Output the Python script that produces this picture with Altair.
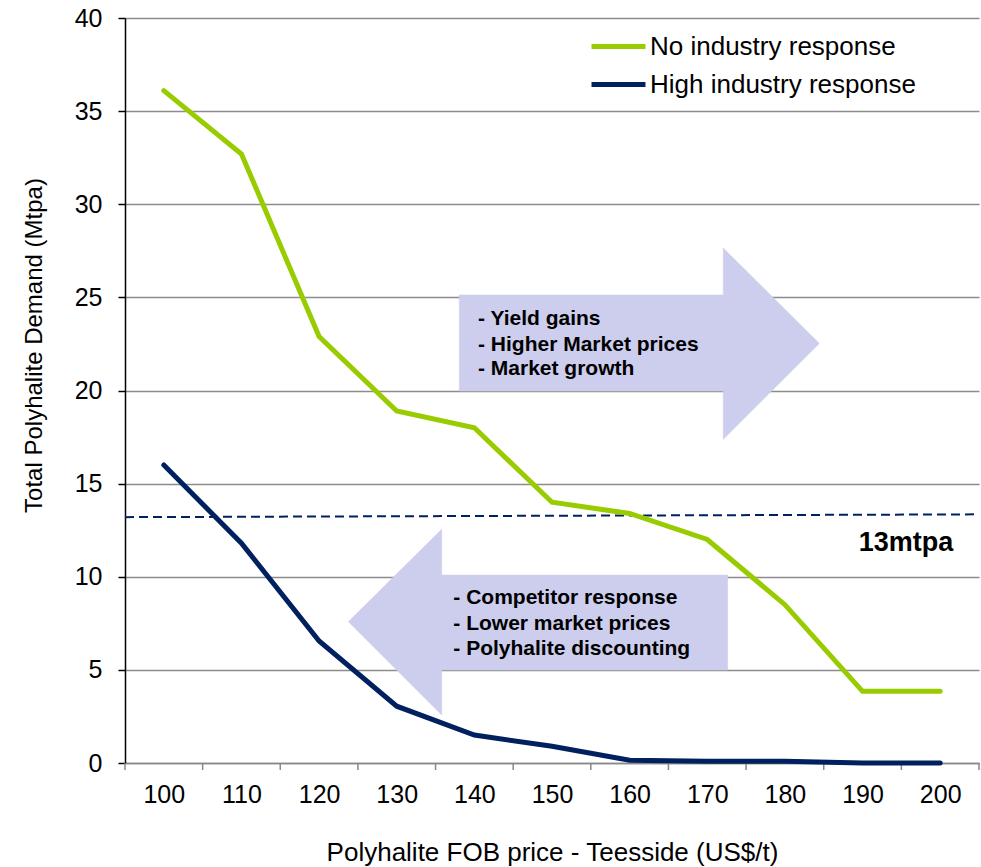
import altair as alt
import pandas as pd

# Demand curves (Mtpa) against FOB price (US$/t)
prices = [100, 110, 120, 130, 140, 150, 160, 170, 180, 190, 200]
no_response = [36.1, 32.7, 22.9, 18.9, 18.0, 14.0, 13.4, 12.0, 8.5, 3.85, 3.85]
high_response = [16.0, 11.8, 6.55, 3.05, 1.5, 0.9, 0.15, 0.1, 0.1, 0.0, 0.0]
series_names = ["No industry response", "High industry response"]
series_colors = ["#99CC00", "#002060"]

# tick marks sit on the boundaries between price categories
tick_bounds = [95, 105, 115, 125, 135, 145, 155, 165, 175, 185, 195, 205]

# 13 mtpa reference level
ref_x = [95, 205]
ref_y = [13.2, 13.35]
ref_label = "13mtpa"
ref_label_x = [195.6]
ref_label_y = [11.83]

# block arrow outlines, listed point by point around each polygon
up_x = [138.06, 172.06, 172.06, 184.43, 172.06, 172.06, 138.06]
up_y = [25.13, 25.13, 27.65, 22.53, 17.38, 19.97, 19.97]
down_x = [123.77, 135.79, 135.79, 172.62, 172.62, 135.79, 135.79]
down_y = [7.59, 12.55, 10.09, 10.09, 4.99, 4.99, 2.58]

up_text = ["- Yield gains", "- Higher Market prices", "- Market growth"]
up_text_x = [140.47, 140.47, 140.47]
up_text_y = [23.83, 22.44, 21.15]
down_text = ["- Competitor response", "- Lower market prices", "- Polyhalite discounting"]
down_text_x = [137.29, 137.29, 137.29]
down_text_y = [8.86, 7.46, 6.12]

FONT = "Liberation Sans"
x_scale = alt.Scale(domain=[95, 205], nice=False, zero=False)
y_scale = alt.Scale(domain=[0, 40], nice=False)

curves = pd.DataFrame(
    [{"series": series_names[0], "price": p, "demand": v} for p, v in zip(prices, no_response)]
    + [{"series": series_names[1], "price": p, "demand": v} for p, v in zip(prices, high_response)]
)

arrows = pd.DataFrame(
    [{"arrow": "up", "idx": i, "price": x, "demand": y} for i, (x, y) in enumerate(zip(up_x, up_y))]
    + [{"arrow": "down", "idx": i, "price": x, "demand": y} for i, (x, y) in enumerate(zip(down_x, down_y))]
)

notes = pd.DataFrame(
    [{"price": x, "demand": y, "t": t} for x, y, t in zip(up_text_x, up_text_y, up_text)]
    + [{"price": x, "demand": y, "t": t} for x, y, t in zip(down_text_x, down_text_y, down_text)]
)

x_axis = alt.Axis(
    values=prices,
    format="d",
    ticks=False,
    grid=False,
    domainColor="#888888",
    domainWidth=1.5,
    labelFontSize=25,
    labelColor="black",
    labelPadding=19,
    labelFont=FONT,
    title="Polyhalite FOB price - Teesside (US$/t)",
    titleFontSize=26,
    titleFontWeight="normal",
    titleColor="black",
    titleFont=FONT,
    titleY=89,
    titleBaseline="middle",
)

y_axis = alt.Axis(
    values=[0, 5, 10, 15, 20, 25, 30, 35, 40],
    grid=True,
    gridColor="#8C8C8C",
    gridWidth=1.5,
    domainColor="black",
    domainWidth=1.5,
    tickColor="black",
    tickWidth=1.5,
    tickSize=7,
    labelFontSize=25,
    labelColor="black",
    labelPadding=16,
    labelFont=FONT,
    title="Total Polyhalite Demand (Mtpa)",
    titleFontSize=24,
    titleFontWeight="normal",
    titleColor="black",
    titleFont=FONT,
    titleAngle=270,
    titleX=-91,
    titleY=327,
    titleAlign="center",
    titleBaseline="middle",
)

X = alt.X("price:Q", scale=x_scale, axis=x_axis)
Y = alt.Y("demand:Q", scale=y_scale, axis=y_axis)

arrow_layer = alt.Chart(arrows).mark_line(
    fill="#CDCDED", stroke="#CDCDED", strokeWidth=0.5, interpolate="linear-closed"
).encode(
    x=X,
    y=Y,
    detail="arrow:N",
    order=alt.Order("idx:Q"),
)

tick_layer = alt.Chart(pd.DataFrame({"price": tick_bounds})).mark_rule(
    color="#888888", strokeWidth=1.5
).encode(
    x=X,
    y=alt.value(745),
    y2=alt.value(752),
)

ref_layer = alt.Chart(pd.DataFrame({"price": ref_x, "demand": ref_y})).mark_line(
    color="#002060", strokeWidth=2, strokeDash=[9, 5]
).encode(x=X, y=Y)

line_layer = alt.Chart(curves).mark_line(
    strokeWidth=5, strokeCap="round"
).encode(
    x=X,
    y=Y,
    color=alt.Color(
        "series:N",
        scale=alt.Scale(domain=series_names, range=series_colors),
        sort=series_names,
        legend=alt.Legend(
            title=None,
            orient="none",
            legendX=472,
            legendY=7,
            symbolType="M-1.42,0H1.42",
            symbolSize=1444,
            symbolStrokeWidth=5,
            labelFontSize=26,
            labelFont=FONT,
            labelColor="black",
            labelOffset=10,
            labelLimit=0,
            rowPadding=3,
            padding=0,
        ),
    ),
)

note_layer = alt.Chart(notes).mark_text(
    align="left", baseline="middle", font=FONT, fontSize=21, fontWeight="bold", color="black"
).encode(x=X, y=Y, text="t:N")

ref_text_layer = alt.Chart(
    pd.DataFrame({"price": ref_label_x, "demand": ref_label_y, "t": [ref_label]})
).mark_text(
    align="center", baseline="middle", font=FONT, fontSize=27, fontWeight="bold", color="black"
).encode(x=X, y=Y, text="t:N")

chart = alt.layer(
    arrow_layer, tick_layer, ref_layer, line_layer, note_layer, ref_text_layer
).properties(
    width=854,
    height=745,
    autosize=alt.AutoSizeParams(type="none"),
    padding={"left": 125, "top": 18, "right": 2, "bottom": 104},
).configure(
    font=FONT
).configure_view(
    stroke=None
)

chart.save("out.html", embed_options={"renderer": "svg", "actions": False})
